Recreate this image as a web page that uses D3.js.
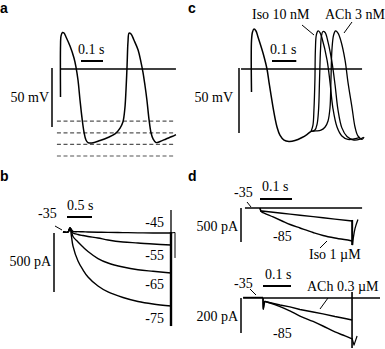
<!DOCTYPE html>
<html><head><meta charset="utf-8">
<script src="https://cdn.jsdelivr.net/npm/d3@7/dist/d3.min.js"></script>
<style>
html,body{margin:0;padding:0;background:#fff;}
svg text{font-family:"Liberation Serif","Times New Roman",serif;font-size:14px;fill:#000;}
svg text.pl{font-family:"Liberation Sans",Arial,sans-serif;font-weight:bold;font-size:14px;}
</style></head><body>
<svg id="c" width="385" height="349"></svg>
<script>
// ---------- Panel a : action potentials (time ms, voltage mV) ----------
const apA_t = [2.3, 2.4, 4.5, 11.4, 18.2, 27.3, 45.5, 63.6, 72.7, 81.8, 90.9, 100, 109, 118, 127, 145, 182, 218, 250, 273, 286, 295, 300, 305, 309, 314, 323, 336, 355, 368, 377, 386, 395, 405, 414, 423, 436, 455, 482, 509, 527];
const apA_v = [-24.1, 20.7, 28.4, 31.5, 31, 27.6, 19.8, 9.5, 1.7, -9.5, -26.7, -42.2, -54.3, -61.2, -63.4, -63.8, -61.6, -59, -56, -50.9, -45.7, -33.6, -18.1, 3.4, 23.3, 31, 30.2, 25, 16.4, 6, -2.6, -13.8, -26.7, -44, -55.2, -60.3, -63.4, -62.5, -60.3, -58.2, -56.5];
const levelsA = [-45, -55, -65, -75];

// ---------- Panel c : control, Iso 10 nM, ACh 3 nM ----------
const apC_common_t = [2.1, 2.2, 6.2, 12.3, 20.6, 28.8, 49.4, 65.8, 74, 82.3, 90.5, 98.8, 107, 119, 136, 156, 181, 210, 230, 247];
const apC_common_v = [-18, 22.7, 28.9, 31.2, 29.7, 25, 12.5, 0, -10.2, -20.3, -29.7, -38.3, -45.3, -51.6, -55.5, -56.6, -55.9, -53.5, -51.2, -48.8];
const apC_iso_t = [255, 259, 263, 265, 269, 276, 284, 292, 313, 325, 337, 354, 374, 399, 424, 449];
const apC_iso_v = [-43.8, -32, -8.6, 14.8, 26.6, 29.7, 28.5, 24.2, 7, -10.2, -30.5, -45.3, -52.3, -55, -54.7, -53.5];
const apC_ctrl_t = [263, 272, 278, 282, 286, 290, 296, 305, 317, 333, 346, 358, 374, 395, 424, 449, 461];
const apC_ctrl_v = [-47.7, -43, -32, -8.6, 14.8, 25.8, 29.3, 28.5, 21, 5.5, -12.5, -32, -46, -52.7, -55.5, -54.7, -53.5];
const apC_ach_t = [267, 288, 305, 317, 325, 329, 333, 340, 348, 358, 370, 387, 399, 416, 428, 440, 457, 465];
const apC_ach_v = [-48.4, -47.7, -45.3, -40.6, -30.5, -8.6, 14.8, 26.6, 29.7, 28, 21.9, 7, -10.2, -30.5, -45.3, -52.3, -55, -53.1];

// ---------- Panel b : If currents at step potentials (time s, current pA) ----------
const bTime = [-0.1, 0, 0.04, 0.07, 0.1, 0.2, 0.3, 0.4, 0.6, 0.8, 1.1, 1.4, 1.7, 2.06];
const bSteps = ["-45", "-55", "-65", "-75"];
const bI45 = [0, 0, 35, 20, 5, 3, 2, 0, -2, -3, -5, -7, -8, -8];
const bI55 = [0, 0, 35, 15, -8, -21, -30, -38, -51, -68, -85, -93, -102, -110];
const bI65 = [0, 0, 35, 5, -38, -85, -127, -165, -225, -263, -297, -320, -333, -347];
const bI75 = [0, 0, 35, -40, -119, -246, -322, -381, -458, -508, -555, -589, -610, -627];

// ---------- Panel d (top) : control vs Iso 1 µM at -85 mV (ms, pA) ----------
const dTopT = [0, 3, 6, 41, 69, 94, 125, 166, 197, 234, 281, 288];
const dTopCtrl = [0, -50, -44, -62, -77, -90, -106, -127, -144, -163, -187, -191];
const dTopIso = [0, -50, -59, -132, -191, -243, -294, -360, -404, -441, -478, -485];
const dTopTailT = [289, 292, 297, 306];
const dTopTailI = [-545, -430, -300, -170];

// ---------- Panel d (bottom) : control vs ACh 0.3 µM at -85 mV (ms, pA) ----------
const dBotT = [0, 1, 6, 14, 61, 96, 132, 179, 214, 257, 293, 318];
const dBotAch = [0, -63, -20, -23, -40, -51, -66, -80, -91, -106, -117, -126];
const dBotCtrl = [0, -63, -20, -23, -49, -74, -103, -134, -160, -194, -217, -234];
const dBotTailT = [318, 325, 336];
const dBotTailI = [-229, -269, -217];

const svg = d3.select("#c");
const zip = (t, v) => t.map((x, i) => [x, v[i]]);
const curve = d3.curveCatmullRom.alpha(0.5);
function trace(g, x, y, data, w, cv) {
  g.append("path").datum(data)
    .attr("d", d3.line().x(d => x(d[0])).y(d => y(d[1])).curve(cv || curve))
    .attr("fill", "none").attr("stroke", "#000").attr("stroke-width", w || 1.5)
    .attr("stroke-linejoin", "round");
}
function seg(g, x1, y1, x2, y2, w, dash, col) {
  const l = g.append("line").attr("x1", x1).attr("y1", y1).attr("x2", x2).attr("y2", y2)
    .attr("stroke", col || "#000").attr("stroke-width", w || 1.3);
  if (dash) l.attr("stroke-dasharray", dash);
  return l;
}
function txt(x, y, s, anchor) {
  svg.append("text").attr("x", x).attr("y", y).attr("text-anchor", anchor || "start").text(s);
}

// panel labels
[["a", 0, 13], ["c", 188, 13], ["b", 0, 181], ["d", 188, 181]].forEach(p =>
  svg.append("text").attr("class", "pl").attr("x", p[1]).attr("y", p[2]).text(p[0]));

// ===== Panel a =====
{
  const g = svg.append("g");
  const x = d3.scaleLinear().domain([0, 100]).range([60, 82]);
  const y = d3.scaleLinear().domain([0, -50]).range([69, 127]);
  levelsA.forEach(v => seg(g, x(-14), y(v), x(523), y(v), 1.2, "4,2.6", "#555"));
  seg(g, x(0), y(0), x(527), y(0), 1.3);
  seg(g, 52, y(0) - 1, 52, y(-50), 1.5);
  txt(49, 102, "50 mV", "end");
  seg(g, 81, 61, 81 + x(100) - x(0), 61, 2);
  txt(78, 54, "0.1 s");
  trace(g, x, y, zip(apA_t, apA_v));
}

// ===== Panel c =====
{
  const g = svg.append("g");
  const x = d3.scaleLinear().domain([0, 100]).range([251, 275.3]);
  const y = d3.scaleLinear().domain([0, -50]).range([69, 133]);
  seg(g, x(-41), y(0), x(457), y(0), 1.3);
  seg(g, 239, y(0) - 1, 239, y(-50), 1.5);
  txt(233, 102, "50 mV", "end");
  seg(g, 272, 61, 272 + x(100) - x(0), 61, 2);
  txt(270, 54, "0.1 s");
  const common = zip(apC_common_t, apC_common_v);
  const last = common[common.length - 1];
  trace(g, x, y, common);
  trace(g, x, y, [last].concat(zip(apC_iso_t, apC_iso_v)), 1.3);
  trace(g, x, y, [last].concat(zip(apC_ctrl_t, apC_ctrl_v)), 1.3);
  trace(g, x, y, [last].concat(zip(apC_ach_t, apC_ach_v)), 1.3);
  txt(252, 19, "Iso 10 nM");
  txt(325, 19, "ACh 3 nM");
  seg(g, 302, 25, 314, 35, 1);
  seg(g, 352, 22, 344, 33, 1);
}

// ===== Panel b =====
{
  const g = svg.append("g");
  const x = d3.scaleLinear().domain([0, 1]).range([68, 118]);
  const y = d3.scaleLinear().domain([0, -500]).range([232, 291]);
  seg(g, 54, y(0) + 1, 54, y(-500) + 1, 1.5);
  txt(51, 266, "500 pA", "end");
  seg(g, 67, 217, 67 + x(0.5) - x(0), 217, 2);
  txt(67, 210, "0.5 s");
  txt(38, 218, "-35");
  seg(g, 55, 226, 62, 230, 1);
  [bI45, bI55, bI65, bI75].forEach(arr => trace(g, x, y, zip(bTime, arr), 1.4));
  // step-back transients
  seg(g, x(2.06), y(186), x(2.06), y(0), 1.3);
  seg(g, x(2.06), y(0), x(2.06), y(-797), 2.4);
  seg(g, x(2.06), y(-8), x(2.14), y(-4), 1);
  seg(g, x(2.14), y(-4), x(2.14), y(-220), 1);
  const lab = [[bSteps[0], 227], [bSteps[1], 260], [bSteps[2], 289], [bSteps[3], 323]];
  lab.forEach(l => txt(164, l[1], l[0], "end"));
}

// ===== Panel d top =====
{
  const g = svg.append("g");
  const x = d3.scaleLinear().domain([0, 100]).range([260, 292]);
  const y = d3.scaleLinear().domain([0, -500]).range([208, 242]);
  seg(g, x(-47), y(0), x(319), y(0), 1.3);
  seg(g, 241, y(0), 241, y(-500), 1.5);
  txt(238, 231, "500 pA", "end");
  seg(g, 260, 199, 260 + x(100) - x(0), 199, 2);
  txt(262, 191, "0.1 s");
  txt(234, 197, "-35");
  seg(g, 247, 202, 251, 207, 1);
  trace(g, x, y, zip(dTopT, dTopCtrl), 1.4, d3.curveLinear);
  trace(g, x, y, zip(dTopT, dTopIso), 1.4);
  seg(g, x(288), y(-176), x(288), y(-545), 2);
  trace(g, x, y, zip(dTopTailT, dTopTailI), 1.3);
  txt(273, 241, "-85");
  txt(309, 259, "Iso 1 µM");
  seg(g, 320, 248, 327, 241, 1);
}

// ===== Panel d bottom =====
{
  const g = svg.append("g");
  const x = d3.scaleLinear().domain([0, 100]).range([263, 291]);
  const y = d3.scaleLinear().domain([0, -200]).range([298, 333]);
  seg(g, x(-71), y(0), x(418), y(0), 1.3);
  seg(g, x(-71), y(3), x(0), y(3), 1.4);
  seg(g, 241, y(0), 241, y(-200), 1.5);
  txt(238, 321, "200 pA", "end");
  seg(g, 263, 286, 263 + x(100) - x(0), 286, 2);
  txt(265, 279, "0.1 s");
  txt(234, 288, "-35");
  seg(g, 250, 289, 256, 295, 1);
  trace(g, x, y, zip(dBotT, dBotAch), 1.4, d3.curveLinear);
  trace(g, x, y, zip(dBotT, dBotCtrl), 1.4);
  seg(g, x(318), y(34), x(318), y(-286), 1.6);
  trace(g, x, y, zip(dBotTailT, dBotTailI), 1.2, d3.curveLinear);
  txt(273, 338, "-85");
  txt(307, 291, "ACh 0.3 µM");
  seg(g, 320, 309, 328, 298, 1);
}
</script></body></html>
